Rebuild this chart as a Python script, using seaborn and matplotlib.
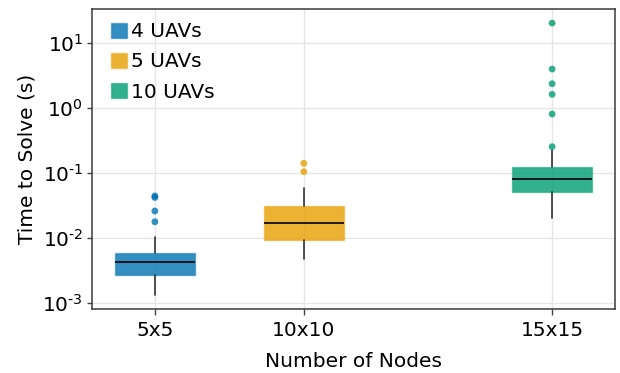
import matplotlib
matplotlib.use("Agg")
import matplotlib.pyplot as plt
import numpy as np
import pandas as pd
import seaborn as sns
from matplotlib.patches import Patch
from matplotlib.colors import to_rgba

# Solve-time summary per scenario (seconds)
fleet_labels = ["4 UAVs", "5 UAVs", "10 UAVs"]
grid_labels = ["5x5", "10x10", "15x15"]
node_counts = [25, 100, 225]
colors = ["#0072B2", "#E69F00", "#009E73"]

q1 = [0.00275, 0.00941, 0.0521]
median = [0.00436, 0.0172, 0.0809]
q3 = [0.00600, 0.0317, 0.1237]
whisker_low = [0.00134, 0.00481, 0.0207]
whisker_high = [0.01036, 0.060, 0.228]
outliers_4 = [0.0448, 0.0425, 0.0263, 0.0180]
outliers_5 = [0.1425, 0.106]
outliers_10 = [20.5, 4.02, 2.39, 1.64, 0.817, 0.257]

FS = 14.5
sns.set_theme(style="white")
plt.rcParams.update({
    "font.family": ["DejaVu Sans"],
    "font.size": FS,
    "axes.labelsize": FS,
    "xtick.labelsize": FS,
    "ytick.labelsize": FS,
    "legend.fontsize": FS,
    "mathtext.fontset": "custom",
    "mathtext.rm": "DejaVu Sans",
    "mathtext.default": "regular",
    "text.color": "black",
    "axes.labelcolor": "black",
    "xtick.color": "#444444",
    "ytick.color": "#444444",
    "xtick.labelcolor": "black",
    "ytick.labelcolor": "black",
})

W, H = 620, 373
fig = plt.figure(figsize=(W / 100, H / 100), dpi=100)
left, right, top, bottom = 91.7, 615.3, 9.3, 308.5
ax = fig.add_axes([left / W, 1 - bottom / H, (right - left) / W, (bottom - top) / H])

ax.set_yscale("log")
ax.set_axisbelow(True)
ax.grid(True, which="major", color="#e6e6e6", linewidth=1.0)

stats = []
for i in range(3):
    stats.append(dict(med=median[i], q1=q1[i], q3=q3[i],
                      whislo=whisker_low[i], whishi=whisker_high[i], fliers=[]))

bp = ax.bxp(stats, positions=node_counts, widths=40, patch_artist=True,
            showfliers=False, showcaps=False,
            whiskerprops=dict(color="#333333", linewidth=1.2),
            medianprops=dict(color="black", linewidth=1.2))
for box, c in zip(bp["boxes"], colors):
    box.set_facecolor(to_rgba(c, 0.8))
    box.set_edgecolor(to_rgba(c, 0.45))
    box.set_linewidth(1.0)

# Outlying runs
out_df = pd.DataFrame({
    "nodes": [node_counts[0]] * len(outliers_4) + [node_counts[1]] * len(outliers_5)
             + [node_counts[2]] * len(outliers_10),
    "time": outliers_4 + outliers_5 + outliers_10,
    "fleet": [fleet_labels[0]] * len(outliers_4) + [fleet_labels[1]] * len(outliers_5)
             + [fleet_labels[2]] * len(outliers_10),
})
sns.scatterplot(data=out_df, x="nodes", y="time", hue="fleet",
                hue_order=fleet_labels, palette=colors, s=24, alpha=0.8,
                linewidth=0, legend=False, ax=ax, zorder=4)

ax.set_xlim(-6.8, 256.8)
ax.set_ylim(8.32e-4, 33.4)

ax.set_xticks(node_counts)
ax.set_xticklabels(grid_labels)
yt = [1e-3, 1e-2, 1e-1, 1e0, 1e1]
ax.set_yticks(yt)
ax.set_yticklabels([r"$10^{\text{-}3}$", r"$10^{\text{-}2}$", r"$10^{\text{-}1}$",
                    r"$10^{0}$", r"$10^{1}$"])
ax.yaxis.set_minor_locator(matplotlib.ticker.NullLocator())
ax.tick_params(axis="x", direction="out", length=4, width=1, pad=5.3, bottom=True)
ax.tick_params(axis="y", direction="out", length=3.5, width=1, pad=2.6, left=True)

for s in ax.spines.values():
    s.set_visible(True)
    s.set_color("#3a3a3a")
    s.set_linewidth(1.1)

ax.set_xlabel("Number of Nodes")
ax.set_ylabel("Time to Solve (s)")
ax.xaxis.set_label_coords(0.5, -0.1454)
ax.yaxis.set_label_coords(-0.1054, 0.5)

handles = [Patch(facecolor=to_rgba(c, 0.8), edgecolor=to_rgba(c, 0.45), linewidth=1.0)
           for c in colors]
ax.legend(handles, fleet_labels, loc="upper left", bbox_to_anchor=(0.037, 0.957),
          frameon=False, borderpad=0, borderaxespad=0, handlelength=0.78,
          handleheight=0.78, handletextpad=0.22, labelspacing=0.56)

fig.savefig("out.png", dpi=100)
